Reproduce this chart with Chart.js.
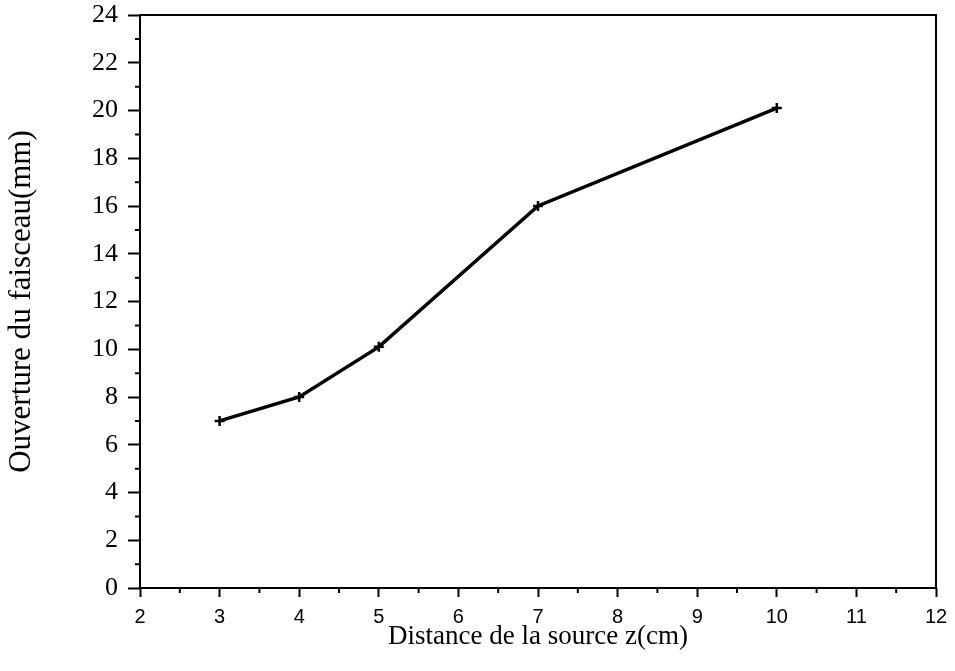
<!DOCTYPE html>
<html>
<head>
<meta charset="utf-8">
<script src="https://cdn.jsdelivr.net/npm/chart.js@4"></script>
<style>
  html, body { margin: 0; padding: 0; background: #fff; }
  #wrap { width: 955px; height: 671px; }
</style>
</head>
<body>
<div id="wrap"><canvas id="chart"></canvas></div>
<script>
// Data
const distances = [3, 4, 5, 7, 10];          // z (cm)
const apertures = [7.0, 8.0, 10.1, 16.0, 20.1]; // beam opening (mm)

const xTitle = 'Distance de la source z(cm)';
const yTitle = 'Ouverture du faisceau(mm)';

const xRange = [2, 12];
const yRange = [0, 24];

// Frame + minor ticks (half-way between the labelled ticks)
const framePlugin = {
    id: 'frame',
    afterDraw(chart) {
        const { ctx, chartArea: a, scales } = chart;
        ctx.save();
        ctx.strokeStyle = '#000';
        ctx.lineWidth = 2;
        ctx.strokeRect(a.left, a.top, a.right - a.left, a.bottom - a.top);

        ctx.beginPath();
        for (let v = xRange[0] + 0.5; v < xRange[1]; v += 1) {
            const px = scales.x.getPixelForValue(v);
            ctx.moveTo(px, a.bottom);
            ctx.lineTo(px, a.bottom + 5);
        }
        for (let v = yRange[0] + 1; v < yRange[1]; v += 2) {
            const py = scales.y.getPixelForValue(v);
            ctx.moveTo(a.left, py);
            ctx.lineTo(a.left - 5, py);
        }
        ctx.stroke();
        ctx.restore();
    }
};

new Chart(document.getElementById('chart'), {
    type: 'line',
    data: {
        datasets: [{
            data: distances.map((x, i) => ({ x: x, y: apertures[i] })),
            borderColor: '#000',
            backgroundColor: '#000',
            borderWidth: 3.5,
            pointStyle: 'cross',
            pointRadius: 5,
            pointBorderWidth: 2.5,
            tension: 0,
            fill: false
        }]
    },
    options: {
        responsive: true,
        maintainAspectRatio: false,
        animation: false,
        layout: { padding: { top: 15, right: 19, left: 0, bottom: 0 } },
        plugins: {
            legend: { display: false },
            tooltip: { enabled: false }
        },
        scales: {
            x: {
                type: 'linear',
                min: xRange[0],
                max: xRange[1],
                afterFit(scale) {
                    scale.height = 83;
                    scale.paddingLeft = 0;
                    scale.paddingRight = 0;
                },
                border: { display: false },
                grid: { drawOnChartArea: false, drawTicks: true, tickLength: 9, tickWidth: 2, tickColor: '#000' },
                ticks: {
                    stepSize: 1,
                    padding: 8,
                    color: '#000',
                    font: { family: "'Liberation Sans', Arial, sans-serif", size: 20 }
                },
                title: {
                    display: true,
                    text: xTitle,
                    color: '#000',
                    padding: { top: 0, bottom: 18 },
                    font: { family: "'Liberation Serif', 'Times New Roman', serif", size: 27 }
                }
            },
            y: {
                min: yRange[0],
                max: yRange[1],
                afterFit(scale) {
                    scale.width = 140;
                    scale.paddingTop = 0;
                    scale.paddingBottom = 0;
                },
                border: { display: false },
                grid: { drawOnChartArea: false, drawTicks: true, tickLength: 12, tickWidth: 2, tickColor: '#000' },
                ticks: {
                    stepSize: 2,
                    padding: 10,
                    color: '#000',
                    font: { family: "'Liberation Serif', 'Times New Roman', serif", size: 26 }
                },
                title: {
                    display: true,
                    text: yTitle,
                    color: '#000',
                    padding: { top: 3, bottom: 0 },
                    font: { family: "'Liberation Serif', 'Times New Roman', serif", size: 31 }
                }
            }
        }
    },
    plugins: [framePlugin]
});
</script>
</body>
</html>
